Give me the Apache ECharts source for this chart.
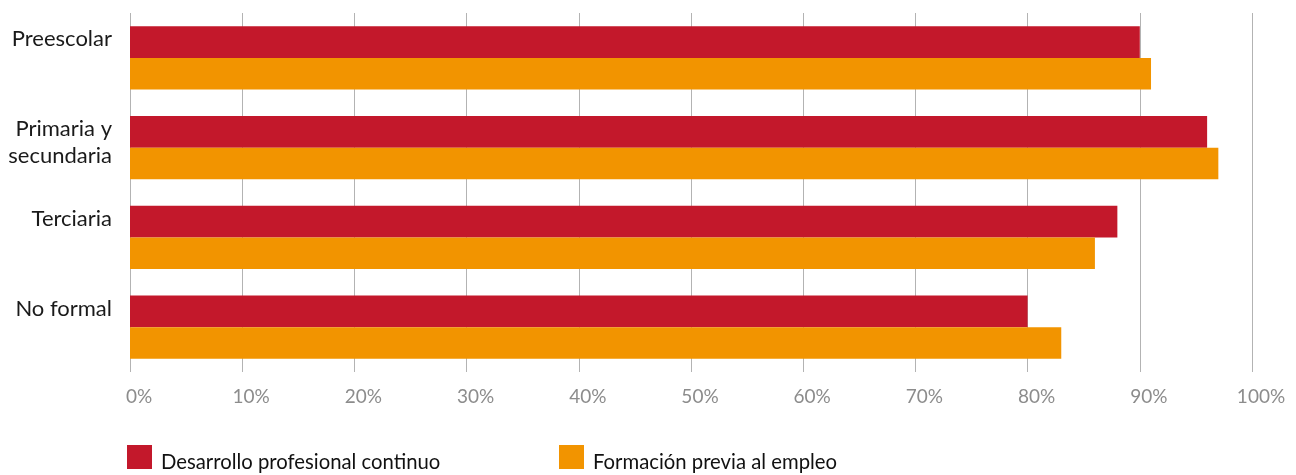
<!DOCTYPE html>
<html>
<head>
<meta charset="utf-8">
<script src="https://cdn.jsdelivr.net/npm/echarts@6/dist/echarts.min.js"></script>
<style>
html,body{margin:0;padding:0;background:#fff;}
#chart{width:1296px;height:475px;}
</style>
</head>
<body>
<div id="chart"></div>
<script>
const categories = ['Preescolar', 'Primaria y\nsecundaria', 'Terciaria', 'No formal'];
const seriesNames = ['Desarrollo profesional continuo', 'Formación previa al empleo'];
const desarrolloValues = [90, 96, 88, 80];
const formacionValues = [91, 97, 86, 83];
const xTicks = [0, 10, 20, 30, 40, 50, 60, 70, 80, 90, 100];

const RED = '#C3182B';
const ORANGE = '#F29400';

const chart = echarts.init(document.getElementById('chart'), null, {renderer: 'canvas'});
const legendText = {
  fontFamily: 'Lato', fontSize: 20.3, color: '#111',
  rich: {a: {fontFamily: 'Lato', fontSize: 20.3, color: '#111', padding: [10, 0, 0, 4]}}
};
const legendFmt = name => '{a|' + name + '}';
chart.setOption({
  animation: false,
  backgroundColor: '#ffffff',
  grid: {left: 130, right: 44, top: 13, bottom: 103, containLabel: false},
  legend: [
    {
      data: [seriesNames[0]], left: 127, top: 445, padding: 0, itemWidth: 25, itemHeight: 24, itemGap: 0,
      icon: 'rect', textStyle: legendText, formatter: legendFmt
    },
    {
      data: [seriesNames[1]], left: 559, top: 445, padding: 0, itemWidth: 25, itemHeight: 24, itemGap: 0,
      icon: 'rect', textStyle: legendText, formatter: legendFmt
    }
  ],
  xAxis: {
    type: 'value', min: xTicks[0], max: xTicks[xTicks.length - 1], interval: 10,
    axisLine: {show: false}, axisTick: {show: false},
    splitLine: {show: true, lineStyle: {color: '#b3b3b3', width: 1}},
    axisLabel: {
      formatter: v => v + '%', fontFamily: 'Lato', fontSize: 19, color: '#8c8c8c',
      margin: 15, padding: [0, 0, 0, 18]
    }
  },
  yAxis: {
    type: 'category', data: categories, inverse: true,
    axisLine: {show: false}, axisTick: {show: false}, splitLine: {show: false},
    axisLabel: {
      interval: 0, margin: 18, align: 'right', verticalAlign: 'middle',
      formatter: function (v) {
        const lines = v.split('\n');
        return lines.map(l => '{t|' + l + '}').join('\n') + '\n{s' + lines.length + '| }';
      },
      rich: {
        t: {fontFamily: 'Lato', fontSize: 22, color: '#1a1a1a', lineHeight: 27, align: 'right'},
        s1: {fontSize: 1, lineHeight: 37, height: 37},
        s2: {fontSize: 1, lineHeight: 10, height: 10}
      }
    }
  },
  series: [
    {
      name: seriesNames[0], type: 'bar', data: desarrolloValues, itemStyle: {color: RED},
      barGap: '0%', barCategoryGap: '29.8%'
    },
    {
      name: seriesNames[1], type: 'bar', data: formacionValues, itemStyle: {color: ORANGE},
      barGap: '0%', barCategoryGap: '29.8%'
    }
  ]
});
</script>
</body>
</html>
